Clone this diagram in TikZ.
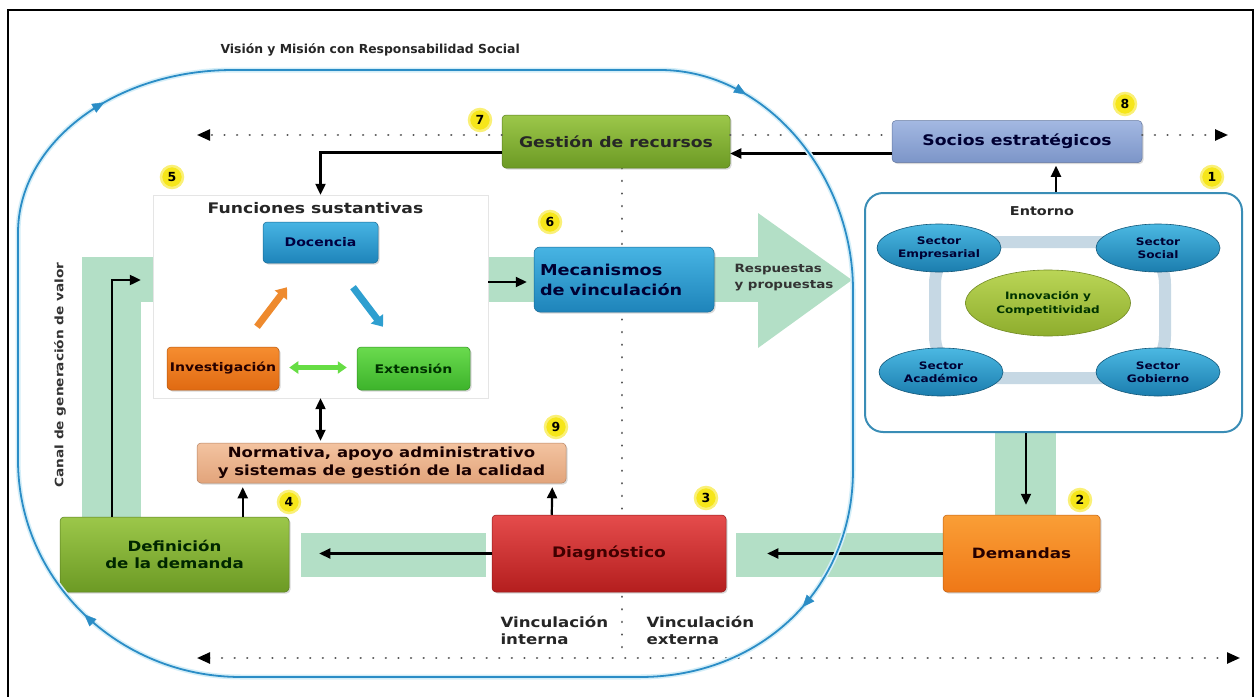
\documentclass[tikz,border=0pt]{standalone}
\usepackage{fontspec}
\newfontfamily\bxf[FakeStretch=1.18]{DejaVu Sans}
\newfontfamily\nrf{DejaVu Sans}
\newcommand\myfs[2]{\bxf\bfseries\fontsize{#1}{#2}\selectfont}
\usetikzlibrary{calc,shapes.geometric,arrows.meta,decorations.markings,shadows}
\definecolor{mint}{HTML}{B3DFC6}
\definecolor{loopblue}{HTML}{2B8DC6}
\definecolor{halo}{HTML}{D4EEF8}
\definecolor{numy}{HTML}{F6E61A}
\definecolor{gA}{HTML}{9CC74A}\definecolor{gB}{HTML}{6C9A24}
\definecolor{sA}{HTML}{A3B8E2}\definecolor{sB}{HTML}{7C95C8}
\definecolor{dA}{HTML}{47B4E3}\definecolor{dB}{HTML}{1E84BA}
\definecolor{iA}{HTML}{F68D30}\definecolor{iB}{HTML}{E06A12}
\definecolor{eA}{HTML}{6ADB4E}\definecolor{eB}{HTML}{3DB32B}
\definecolor{nA}{HTML}{F3C3A0}\definecolor{nB}{HTML}{E2A47B}
\definecolor{rA}{HTML}{E54C4C}\definecolor{rB}{HTML}{B41E1E}
\definecolor{oA}{HTML}{FA9E36}\definecolor{oB}{HTML}{EF7817}
\definecolor{entb}{HTML}{3A8DB6}
\definecolor{ringc}{HTML}{C6D8E4}
\definecolor{secA}{HTML}{4BB8E2}\definecolor{secB}{HTML}{1B7DAE}
\definecolor{inA}{HTML}{BAD556}\definecolor{inB}{HTML}{8EAD2D}
\definecolor{orar}{HTML}{EE8A2E}
\definecolor{bluar}{HTML}{2E9FD0}
\definecolor{grar}{HTML}{66DD44}
\pgfdeclarelayer{bg}
\pgfsetlayers{bg,main}
\begin{document}
\begin{tikzpicture}[x=1pt,y=-1pt,
  boxst/.style={rounded corners=4pt, inner sep=2pt, align=center, text=black!85,
    drop shadow={opacity=0.3,shadow xshift=1.5pt,shadow yshift=-1.5pt}},
  blkarr/.style={line width=2.2pt, -{Triangle[length=11pt,width=10pt]}},
  dotline/.style={line width=2.4pt, dash pattern=on 0.1pt off 12.5pt, line cap=round, black!65},
  tipk/.style={-{Triangle[length=13pt,width=11pt,black]}},
  numc/.style={circle, fill=numy, draw=numy!60!white, line width=2.5pt, inner sep=0pt, minimum size=22pt,
    font=\nrf\bfseries\fontsize{12.5}{12.5}\selectfont},
  sectst/.style={ellipse, minimum width=124pt, minimum height=48pt, top color=secA, bottom color=secB,
    draw=secB!70!black, line width=0.6pt, align=center, inner sep=0pt, text=black!80!blue,
    font=\myfs{10.3}{12.5}},
  fatarr/.style={line width=7pt, -{Triangle[length=10pt,width=15pt]}},
  looparrow/.style={postaction={decorate}, decoration={markings,
    mark=at position #1 with {\arrow[loopblue]{Triangle[length=12pt,width=10pt]}}}}
]
\useasboundingbox (0,0) rectangle (1255,696);
% frame
\draw[line width=1.6pt] (8,700) -- (8,10) -- (1253,10) -- (1253,700);

% title
\node[anchor=west, font=\nrf\bfseries\fontsize{12.4}{14}\selectfont, text=black!85] (title) at (217,50) {Visión y Misión con Responsabilidad Social};

% panel and main boxes
\node[draw=black!10, fill=white, minimum width=335pt, minimum height=203pt, inner sep=0pt] (panel) at (320.5,296.5) {};
\node[font=\myfs{14.6}{17}, text=black!85] (ftitle) at (315.5,208) {Funciones sustantivas};

\node[boxst, minimum width=228pt, minimum height=53pt, top color=gA, bottom color=gB, draw=gB!80!black, line width=0.5pt, font=\myfs{14.6}{17}] (gestion) at (616,141.5) {Gestión de recursos};
\node[boxst, minimum width=250pt, minimum height=42pt, top color=sA, bottom color=sB, draw=sB!80!black, line width=0.5pt, font=\myfs{14.6}{17}, text=black!80!blue] (socios) at (1017,141.5) {Socios estratégicos};

\node[boxst, minimum width=115pt, minimum height=41pt, top color=dA, bottom color=dB, draw=dB!80!black, line width=0.5pt, font=\myfs{11.9}{14}, text=black!75!blue] (docencia) at (320.5,242.5) {Docencia};
\node[boxst, minimum width=112pt, minimum height=43pt, top color=iA, bottom color=iB, draw=iB!80!black, line width=0.5pt, font=\myfs{11.9}{14}, text=black!85!red] (invest) at (223,368.5) {Investigación};
\node[boxst, minimum width=113pt, minimum height=43pt, top color=eA, bottom color=eB, draw=eB!80!black, line width=0.5pt, font=\myfs{11.9}{14}, text=black!80!green] (extens) at (413.5,368.5) {Extensión};

\node[boxst, rounded corners=6pt, minimum width=180pt, minimum height=65pt, text width=168pt, inner xsep=6pt, align=left, top color=dA, bottom color=dB, draw=dB!80!black, line width=0.5pt, font=\myfs{15}{20}, text=black!80!blue] (mecan) at (624,279.5) {Mecanismos\\de vinculación};

\node[boxst, minimum width=369pt, minimum height=40pt, top color=nA, bottom color=nB, draw=nB!80!black, line width=0.5pt, font=\myfs{14}{18}, text=black!90!red] (normat) at (381.5,463) {Normativa, apoyo administrativo\\y sistemas de gestión de la calidad};

\node[boxst, minimum width=229pt, minimum height=75pt, top color=gA, bottom color=gB, draw=gB!80!black, line width=0.5pt, font=\myfs{14.1}{17}, text=black!85!green] (defin) at (174.5,554.5) {Definición\\de la demanda};
\node[boxst, minimum width=234pt, minimum height=77pt, top color=rA, bottom color=rB, draw=rB!80!black, line width=0.5pt, font=\myfs{14.5}{17}, text=black!75!red] (diagn) at (609,553.5) {Diagnóstico};
\node[boxst, minimum width=157pt, minimum height=77pt, top color=oA, bottom color=oB, draw=oB!80!black, line width=0.5pt, font=\myfs{14.2}{17}, text=black!85!red] (demand) at (1021.5,553.5) {Demandas};

% entorno
\node[draw=entb, line width=2pt, rounded corners=18pt, fill=white, minimum width=377pt, minimum height=239pt, inner sep=0pt] (entorno) at (1053.5,312.5) {};
\node[font=\myfs{12.2}{14}, text=black!85] (entlbl) at (1042,211) {Entorno};
\node[draw=ringc, line width=12pt, rounded corners=42pt, minimum width=230pt, minimum height=136pt, inner sep=0pt] (ring) at (1050,310) {};
\node[sectst] (emp) at (939,248) {Sector\\Empresarial};
\node[sectst] (soc) at (1158,248) {Sector\\Social};
\node[sectst] (aca) at (941,372) {Sector\\Académico};
\node[sectst] (gob) at (1158,372) {Sector\\Gobierno};
\node[ellipse, minimum width=165pt, minimum height=66pt, top color=inA, bottom color=inB, draw=inB!80!black, line width=0.6pt, align=center, inner sep=0pt, font=\myfs{10.2}{14}, text=black!80!green] (innov) at (1048,303) {Innovación y\\Competitividad};

% background bands and hidden dotted line
\begin{pgfonlayer}{bg}
  \fill[mint] (82,257) rectangle (758,302);
  \fill[mint] (758,213) -- (852,280) -- (758,348) -- cycle;
  \fill[mint] (82,257) rectangle (141,517);
  \fill[mint] (301,533) rectangle (486,577);
  \fill[mint] (736,533) rectangle (943,577);
  \fill[mint] (995,432) rectangle (1056,515);
  \coordinate (vb) at (622,652);
  \draw[dotline] ($(gestion.south)+(6,0)$) -- (vb);
\end{pgfonlayer}

% texts
\node[anchor=west, align=left, font=\myfs{11.4}{16}, text=black!80] (resp) at (731,278) {Respuestas\\y propuestas};
\node[anchor=west, align=left, font=\myfs{14.1}{17}, text=black!85] (vint) at (497,630.5) {Vinculación\\interna};
\node[anchor=west, align=left, font=\myfs{14.1}{17}, text=black!85] (vext) at (643,630.5) {Vinculación\\externa};
\node[rotate=90, font=\myfs{11.6}{14}, text=black!80] (canal) at (60,375) {Canal de generación de valor};

% black arrows
\draw[blkarr] ($(socios.west)+(0,12)$) -- ($(gestion.east)+(0,12)$);
\draw[blkarr] ($(gestion.west)+(0,11)$) -| (panel.north);
\draw[blkarr, shorten >=3pt] ($(entorno.north)+(2.5,0)$) -- ($(socios.south)+(39,0)$);
\draw[blkarr, shorten >=10pt] ($(entorno.south)+(-27.5,0)$) -- ($(demand.north)+(4.5,0)$);
\draw[blkarr] (demand.west) -- ($(diagn.east)+(41,0)$);
\draw[blkarr] (diagn.west) -- ($(defin.east)+(30,-1)$);
\draw[blkarr] ($(diagn.north west)+(60,0)$) -- ($(normat.south east)+(-14,4)$);
\draw[blkarr] ($(defin.north west)+(183,0)$) -- ($(normat.south west)+(46,4)$);
\draw[blkarr] ($(defin.north west)+(52,0)$) |- ($(panel.west)+(-12,-16.5)$);
\draw[line width=2.2pt, {Triangle[length=11pt,width=10pt]}-{Triangle[length=11pt,width=10pt]}, shorten >=2pt] (panel.south) -- (panel.south |- normat.north);
\draw[blkarr] ($(panel.east)+(0,-14.5)$) -- ($(mecan.west)+(-7,2.5)$);

% function arrows
\draw[fatarr, orar] ($(invest.north)+(34,-20)$) -- ($(docencia.south)+(-33.5,24)$);
\draw[fatarr, bluar] ($(docencia.south)+(32.5,24)$) -- ($(extens.north)+(-30.5,-20)$);
\draw[line width=5pt, grar, {Triangle[length=9pt,width=12pt]}-{Triangle[length=9pt,width=12pt]}] ($(invest.east)+(10,-1)$) -- ($(extens.west)+(-10,-1)$);

% dotted lines
\coordinate (dl) at (197,135);
\coordinate (dr) at (1228,135);
\coordinate (bl) at (197,658);
\coordinate (br) at (1240,658);
\draw[dotline, tipk] ($(gestion.west)+(0,-6.5)$) -- (dl);
\draw[dotline] ($(gestion.east)+(0,-6.5)$) -- ($(socios.west)+(0,-6.5)$);
\draw[dotline, tipk] ($(socios.east)+(0,-6.5)$) -- (dr);
\draw[dotline, {Triangle[length=13pt,width=11pt,black]}-{Triangle[length=13pt,width=11pt,black]}] (bl) -- (br);

% blue loop
\draw[loopblue, line width=1.8pt, preaction={draw=halo, line width=5pt}]
  (233,70) -- (660,70) .. controls (766,70) and (853,175) .. (853,290)
  -- (853,470) .. controls (853,590) and (760,677) .. (640,677)
  -- (241,677) .. controls (118,677) and (18,580) .. (18,460)
  -- (18,233) .. controls (18,143) and (114,70) .. (233,70) -- cycle;
\path[looparrow=0.55] (18,233) .. controls (18,143) and (114,70) .. (233,70);
\path[looparrow=0.28] (660,70) .. controls (766,70) and (853,175) .. (853,290);
\path[looparrow=0.45] (853,470) .. controls (853,590) and (760,677) .. (640,677);
\path[looparrow=0.5] (241,677) .. controls (118,677) and (18,580) .. (18,460);

% numbers
\node[numc] (n7) at (480,120) {7};
\node[numc] (n8) at (1125,104) {8};
\node[numc] (n5) at (172,177) {5};
\node[numc] (n1) at (1212,177) {1};
\node[numc] (n6) at (550,222) {6};
\node[numc] (n9) at (556,427) {9};
\node[numc] (n4) at (289,502) {4};
\node[numc] (n3) at (706,498) {3};
\node[numc] (n2) at (1080,500) {2};
\end{tikzpicture}
\end{document}
